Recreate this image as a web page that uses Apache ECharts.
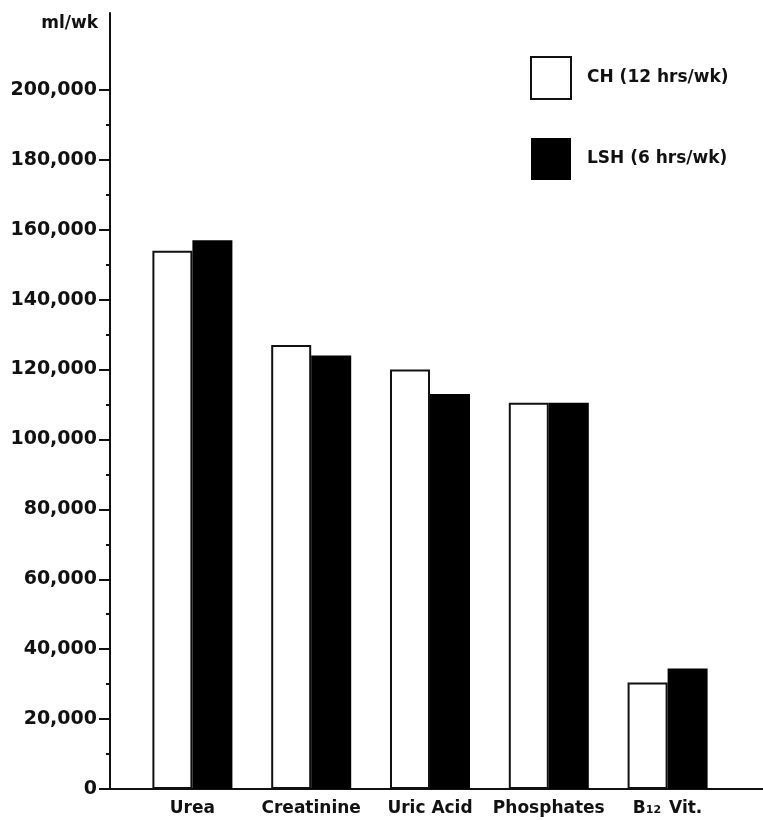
<!DOCTYPE html>
<html><head><meta charset="utf-8">
<script src="https://cdn.jsdelivr.net/npm/echarts@6/dist/echarts.min.js"></script>
<style>html,body{margin:0;padding:0;background:#fff}#c{width:763px;height:820px}</style>
</head><body><div id="c"></div>
<script>
const categories = ['Urea', 'Creatinine', 'Uric Acid', 'Phosphates', 'B12 Vit.'];
const chValues = [154000, 127000, 120000, 110500, 30500];
const lshValues = [157000, 124000, 113000, 110500, 34500];
const seriesNames = ['CH (12 hrs/wk)', 'LSH (6 hrs/wk)'];
const yMajorTicks = [0, 20000, 40000, 60000, 80000, 100000, 120000, 140000, 160000, 180000, 200000];
const yMinorTicks = [10000, 30000, 50000, 70000, 90000, 110000, 130000, 150000, 170000, 190000];
const yUnit = 'ml/wk';

const FONT = 'DejaVu Sans';
const yMax = 222000;
const fmt = v => String(v).replace(/\B(?=(\d{3})+(?!\d))/g, ',');

const chart = echarts.init(document.getElementById('c'), null, {renderer: 'canvas'});
chart.setOption({
  animation: false,
  backgroundColor: '#fff',
  grid: [
    {left: 110, right: 0, top: 13, bottom: 31},
    {left: 133, width: 594, top: 13, bottom: 31}
  ],
  legend: {
    data: seriesNames,
    orient: 'vertical',
    left: 525, top: 51,
    itemWidth: 40, itemHeight: 42, itemGap: 38,
    icon: 'rect',
    textStyle: {fontFamily: FONT, fontSize: 17, fontWeight: 'bold', color: '#111', padding: [0, 0, 0, 11]}
  },
  xAxis: [
    {gridIndex: 0, type: 'value', min: 0, max: 1,
     axisLine: {show: true, lineStyle: {color: '#111', width: 2}},
     axisTick: {show: false}, axisLabel: {show: false}, splitLine: {show: false}},
    {gridIndex: 1, type: 'category', data: categories,
     axisLine: {show: false}, axisTick: {show: false}, splitLine: {show: false},
     axisLabel: {
       interval: 0, hideOverlap: false,
       margin: 11, color: '#111', fontFamily: FONT, fontSize: 17, fontWeight: 'bold',
       formatter: v => v === 'B12 Vit.' ? '{m|B}{s|12}{m| Vit.}' : '{m|' + v + '}',
       rich: {
         m: {fontFamily: FONT, fontSize: 17, fontWeight: 'bold', color: '#111', padding: [0, 0, 4, 0]},
         s: {fontFamily: FONT, fontSize: 11, fontWeight: 'bold', color: '#111', padding: [0, 2, 0, 0]}
       }
     }}
  ],
  yAxis: [
    {gridIndex: 0, type: 'value', min: 0, max: yMax, position: 'left',
     name: yUnit, nameLocation: 'end', nameGap: -11,
     nameTextStyle: {fontFamily: FONT, fontSize: 17, fontWeight: 'bold', color: '#111', align: 'right', verticalAlign: 'middle', padding: [0, 12, 0, 0]},
     axisLine: {show: true, lineStyle: {color: '#111', width: 2}},
     axisTick: {show: true, customValues: yMajorTicks, length: 11, lineStyle: {color: '#111', width: 2}},
     axisLabel: {customValues: yMajorTicks, formatter: fmt, margin: 13, color: '#111', fontFamily: FONT, fontSize: 19, fontWeight: 'bold'},
     splitLine: {show: false}},
    {gridIndex: 0, type: 'value', min: 0, max: yMax, position: 'left',
     axisLine: {show: false},
     axisTick: {show: true, customValues: yMinorTicks, length: 4, lineStyle: {color: '#111', width: 2}},
     axisLabel: {show: false}, splitLine: {show: false}},
    {gridIndex: 1, type: 'value', min: 0, max: yMax, show: false}
  ],
  series: [
    {name: seriesNames[0], type: 'bar', xAxisIndex: 1, yAxisIndex: 2, data: chValues,
     barWidth: 40, barGap: '0%',
     itemStyle: {color: '#fff', borderColor: '#111', borderWidth: 2}},
    {name: seriesNames[1], type: 'bar', xAxisIndex: 1, yAxisIndex: 2, data: lshValues,
     barWidth: 40, barGap: '0%',
     itemStyle: {color: '#000', borderColor: '#000', borderWidth: 0}}
  ]
});
</script></body></html>
